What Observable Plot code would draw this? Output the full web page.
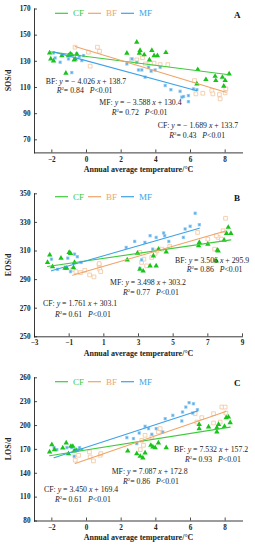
<!DOCTYPE html>
<html><head><meta charset="utf-8">
<script src="https://cdn.jsdelivr.net/npm/d3@7"></script>
<script src="https://cdn.jsdelivr.net/npm/@observablehq/plot@0.6"></script>
<style>
body{margin:0;background:#fff;}
#chart{width:255px;}
#chart svg{display:block;}
</style>
</head><body><div id="chart"></div>
<script>
// ---------- DATA ----------
const groups = ["CF", "BF", "MF"];
const xLabel = "Annual average temperature/°C";

// Panel A: SOS
const sosCF = [[-2.13,136.5],[-2.06,131.8],[-1.9,130.3],[-1.42,134.4],[-1.19,120.9],[-1.04,134.4],[-0.94,135.7],[-0.85,135],[-0.71,131],[-0.65,131.8],[-0.56,135.5],
  [2.33,136.2],[2.9,144.6],[3.09,138.3],[3.05,136.2],[3.33,135],[3.63,131.1],[3.77,138.3],[3.9,134.4],[4.09,134.4],[4.58,136.7],
  [6.42,123.7],[6.37,112.8],[6.89,116.1],[7.42,118.6],[7.46,115.3],[7.84,117.8],[8.0,115.3],[7.92,111],[8.23,120.4]];
const sosBF = [[-0.66,140.8],[0.11,137],[0.21,126.3],[0.63,140.8],[0.75,137.7],
  [2.6,131.5],[2.9,131.1],[3.23,132.7],[3.4,128],[3.71,128.6],[3.9,128.6],[4.25,127.5],[4.69,127.5],
  [6.23,115.3],[6.31,105.1],[6.71,105.6],[7.23,107.7],[7.29,105.1],[7.67,104.6],[7.71,101.3],[8.04,109],[8.0,105.9]];
const sosMF = [[-1.9,136.4],[-1.81,132.6],[-1.52,129.3],[-1.04,131.8],[-0.85,121.4],[-0.56,135.7],[-0.42,133.7],[-0.27,130.6],[-0.17,134.4],
  [2.33,128],[2.62,131.8],[2.9,129.3],[3.0,123.4],[3.19,123.4],[3.38,117.9],[3.58,125.5],[3.73,122.5],[3.96,123.4],[4.25,125.5],[4.54,111.5],[4.87,108.3],
  [5.4,107.1],[5.5,102.6],[5.6,103.1],[5.88,103.8],[5.88,99.2],[6.17,108.9],[6.37,108.3]];
const sosSlope = [-1.689, -4.026, -3.588];
const sosIntercept = [133.7, 138.7, 130.4];
const sosR2 = ["0.43", "0.84", "0.72"];
const sosTicks = [70, 90, 110, 130, 150, 170];

// Panel B: EOS
const eosCF = [[-2.25,302],[-2.12,307.3],[-1.96,299.1],[-1.47,305],[-1.24,298],[-1.14,298],[-1.0,309],[-0.92,308.3],[-0.75,298.4],[-0.69,302],
  [2.35,303.8],[2.94,308.5],[3.08,297.2],[3.27,296],[3.67,299.6],[3.86,306.6],[4.02,299.6],[4.16,311.3],[4.6,309.4],
  [6.47,313.7],[6.51,316],[7.0,314.8],[7.49,303.1],[7.55,310.6],[7.6,310],[7.94,317.6],[8.18,326.6],[8.33,322.3],[8.08,322.3]];
const eosBF = [[-0.8,297.2],[-0.61,295.6],[-0.35,294.9],[-0.1,296.5],[0.18,293.3],[0.43,291.9],[0.73,300.3],[0.76,297.2],[0.82,295.6],[0.73,301.2],
  [3.08,309],[3.18,302],[3.31,304.3],[3.47,299.6],[3.76,305.5],[3.96,308.3],[4.06,310.1],[4.35,311.3],[4.8,313.2],
  [6.41,323],[7.0,318.3],[7.39,311.3],[7.59,319.5],[7.78,318.3],[7.88,324.2],[8.02,332.9],[7.49,320.7]];
const eosMF = [[-2.02,304.3],[-1.67,297.2],[-1.08,305],[-0.92,295.6],[-0.69,307.8],[-0.53,306],[-0.31,302],
  [2.29,312.5],[2.78,316.7],[3.08,297.9],[3.18,303.8],[3.37,316],[3.67,320.7],[3.82,311.3],[4.02,319.5],[4.45,322.6],[4.51,320.7],[4.75,316.7],
  [5.59,319.5],[5.69,325.4],[5.98,327.3],[6.27,336.4],[6.51,328.4]];
const eosSlope = [1.761, 3.506, 3.498];
const eosIntercept = [303.1, 295.9, 303.2];
const eosR2 = ["0.61", "0.86", "0.77"];
const eosTicks = [250, 270, 290, 310, 330, 350];

// Panel C: LOS
const losCF = [[-2.13,166.8],[-2.0,176],[-1.85,169.7],[-1.37,171.8],[-1.17,178.1],[-1.04,164.7],[-0.9,173.9],[-0.79,173.9],[-0.71,168.1],[-0.6,168.9],
  [2.38,168.1],[2.9,164.7],[3.1,161.4],[3.25,159.3],[3.38,165.5],[3.71,175.2],[3.83,173.1],[3.96,172.2],[4.15,178.1],[4.6,172.2],
  [6.5,201.5],[6.5,196.1],[7.04,198.2],[7.52,197.3],[7.52,191.9],[7.62,201.5],[7.96,199],[8.06,209.9],[8.19,210.7],[8.29,203.6]];
const losBF = [[-0.65,156.4],[-0.46,162.6],[0.17,166.8],[0.21,160.5],[0.4,155.5],[0.79,162.6],[0.83,164.7],
  [3.1,169.7],[3.19,181.4],[3.29,175.2],[3.38,187.7],[3.77,185.6],[4.15,191.9],[4.25,196.1],
  [6.27,214.9],[6.37,204.4],[6.65,209.9],[7.33,214.9],[7.33,203.2],[7.71,204.4],[7.81,223.2],[8.0,223.2],[8.04,215.7]];
const losMF = [[-1.87,172.2],[-1.71,169.7],[-1.13,172.2],[-0.85,172.2],[-0.71,161.4],[-0.46,169.7],[-0.4,172.2],[-0.27,169.7],
  [2.33,184.8],[2.71,183.6],[2.9,177.3],[3.04,190.6],[3.38,199],[3.58,196.1],[3.77,189],[4.02,196.1],[4.4,191.9],[4.54,208.6],[4.98,212.8],
  [5.5,205.7],[5.54,217],[5.73,223.2],[5.92,228.7],[6.17,227.4],[6.4,219.9],[6.13,215.7]];
const losSlope = [3.450, 7.532, 7.087];
const losIntercept = [169.4, 157.2, 172.8];
const losR2 = ["0.61", "0.93", "0.86"];
const losTicks = [80, 110, 140, 170, 200, 230, 260];

const xTicksAC = [-2, 0, 2, 4, 6, 8];
const xTicksB = [-3, -1, 1, 3, 5, 7, 9];

// ---------- STYLE ----------
const FONT = "'Liberation Serif','Times New Roman',serif";
const lineColor = {CF: "#3ccb3c", BF: "#f0a468", MF: "#3da2e6"};
const W = 255, ML = 34, MR = 13;

function fmtNum(d) { return d < 0 ? "−" + Math.abs(d) : String(d); }

function buildPanel(cfg) {
  const {height, mt, mb, yDomain, yTicks, xTicks, yLabel, letter, sets, slopes, intercepts, r2s, annot, legendY, letterY} = cfg;
  const plotW = W - ML - MR, plotH = height - mt - mb;
  const marks = [];
  const pts = (arr) => arr.map(([x, y]) => ({x, y}));
  // points
  marks.push(Plot.dot(pts(sets[1]), {x: "x", y: "y", symbol: "square", r: 2.1, stroke: "#f3c59c", strokeWidth: 0.8, fill: "white"}));
  marks.push(Plot.dot(pts(sets[2]), {x: "x", y: "y", symbol: "square", r: 1.9, fill: "#a9d6f6"}));
  marks.push(Plot.dot(pts(sets[2]), {x: "x", y: "y", symbol: "asterisk", r: 1.2, stroke: "#4aa6e6", strokeWidth: 0.6}));
  marks.push(Plot.dot(pts(sets[0]), {x: "x", y: "y", symbol: "triangle", r: 2, fill: "#19c419"}));
  // regression lines
  groups.forEach((g, i) => {
    const ext = d3.extent(sets[i], d => d[0]);
    const ld = ext.map(x => ({x, y: slopes[i] * x + intercepts[i]}));
    marks.push(Plot.line(ld, {x: "x", y: "y", stroke: lineColor[g], strokeWidth: 1.1}));
  });
  // axes
  marks.push(Plot.frame({anchor: "left", stroke: "#222", strokeWidth: 0.9}));
  marks.push(Plot.frame({anchor: "bottom", stroke: "#222", strokeWidth: 0.9}));
  marks.push(Plot.tickY(yTicks, {y: d => d, insetRight: plotW - 3, stroke: "#222", strokeWidth: 0.8}));
  marks.push(Plot.tickX(xTicks, {x: d => d, insetTop: plotH - 3, stroke: "#222", strokeWidth: 0.8}));
  marks.push(Plot.axisY({ticks: yTicks, tickSize: 0, tickPadding: 4, tickFormat: fmtNum, fontWeight: "bold", fontSize: 7.2, label: null}));
  marks.push(Plot.axisX({ticks: xTicks, tickSize: 0, tickPadding: 3.5, tickFormat: fmtNum, fontWeight: "bold", fontSize: 7.2, label: null}));
  marks.push(Plot.text([xLabel], {frameAnchor: "bottom", dy: 19, fontWeight: "bold", fontSize: 8, text: d => d}));

  const svgEl = Plot.plot({
    width: W, height, marginTop: mt, marginBottom: mb, marginLeft: ML, marginRight: MR,
    style: {fontFamily: FONT, fontSize: "7px", color: "#222", background: "white", overflow: "visible"},
    x: {domain: [-3, 9]},
    y: {domain: yDomain},
    marks
  });
  const svg = d3.select(svgEl);

  // y label
  const cy = mt + plotH / 2;
  svg.append("text").attr("transform", `translate(8,${cy}) rotate(-90)`).attr("text-anchor", "middle")
    .attr("dy", "0.32em").attr("font-family", FONT).attr("font-weight", "bold").attr("font-size", 8)
    .attr("fill", "#222").text(yLabel);

  // legend
  const legX = [[55, 68, 73], [88, 101, 106], [121, 134, 139]];
  groups.forEach((g, i) => {
    const [a, b, t] = legX[i];
    svg.append("line").attr("x1", a).attr("x2", b).attr("y1", legendY).attr("y2", legendY)
      .attr("stroke", lineColor[g]).attr("stroke-width", 1.2);
    svg.append("text").attr("x", t).attr("y", legendY + 3).attr("fill", lineColor[g]).attr("text-anchor", "start")
      .attr("font-family", FONT).attr("font-size", 9).text(g);
  });
  // panel letter
  svg.append("text").attr("x", 234).attr("y", letterY + 3).attr("font-family", FONT).attr("text-anchor", "start")
    .attr("font-weight", "bold").attr("font-size", 9).attr("fill", "#111").text(letter);

  // equations
  groups.forEach((g, i) => {
    const [ex, ey, rx, ry] = annot[i];
    const s = slopes[i];
    const t1 = svg.append("text").attr("x", ex).attr("y", ey + 2.6).attr("text-anchor", "start")
      .attr("font-family", FONT).attr("font-size", 7.8).attr("fill", "#222");
    t1.append("tspan").text(g + ": ");
    t1.append("tspan").attr("font-style", "italic").text("y");
    t1.append("tspan").text(" = " + (s < 0 ? "− " + Math.abs(s).toFixed(3) : s.toFixed(3)) + " ");
    t1.append("tspan").attr("font-style", "italic").text("x");
    t1.append("tspan").text(" + " + intercepts[i].toFixed(1));
    const t2 = svg.append("text").attr("x", rx).attr("y", ry + 2.6).attr("text-anchor", "start")
      .attr("font-family", FONT).attr("font-size", 7.8).attr("fill", "#222");
    t2.append("tspan").attr("font-style", "italic").text("R");
    t2.append("tspan").attr("font-size", 4.8).attr("dy", -3).text("2");
    t2.append("tspan").attr("dy", 3).text("= " + r2s[i] + "   ");
    t2.append("tspan").attr("font-style", "italic").text("P");
    t2.append("tspan").text("<0.01");
  });
  return svgEl;
}

const chart = document.getElementById("chart");
chart.appendChild(buildPanel({
  height: 180, mt: 8.5, mb: 27.6, yDomain: [60, 170], yTicks: sosTicks, xTicks: xTicksAC,
  yLabel: "SOS/d", letter: "A", sets: [sosCF, sosBF, sosMF], slopes: sosSlope, intercepts: sosIntercept, r2s: sosR2,
  annot: [[157.7, 125, 169.3, 135], [45.7, 81.7, 56.7, 90.7], [99.3, 102.7, 111.7, 112.3]],
  legendY: 13.3, letterY: 15
}));
chart.appendChild(buildPanel({
  height: 185, mt: 13.3, mb: 28.7, yDomain: [250, 350], yTicks: eosTicks, xTicks: xTicksB,
  yLabel: "EOS/d", letter: "B", sets: [eosCF, eosBF, eosMF], slopes: eosSlope, intercepts: eosIntercept, r2s: eosR2,
  annot: [[43, 123.3, 55, 134], [175, 80, 186.7, 89.3], [110, 102.7, 123, 112.3]],
  legendY: 16.7, letterY: 18.3
}));
chart.appendChild(buildPanel({
  height: 185, mt: 12.3, mb: 29.5, yDomain: [80, 260], yTicks: losTicks, xTicks: xTicksAC,
  yLabel: "LOS/d", letter: "C", sets: [losCF, losBF, losMF], slopes: losSlope, intercepts: losIntercept, r2s: losR2,
  annot: [[44, 124.3, 55, 134.3], [174, 84.3, 185, 94.3], [111.7, 106, 123, 116]],
  legendY: 16.7, letterY: 18.3
}));
</script></body></html>
